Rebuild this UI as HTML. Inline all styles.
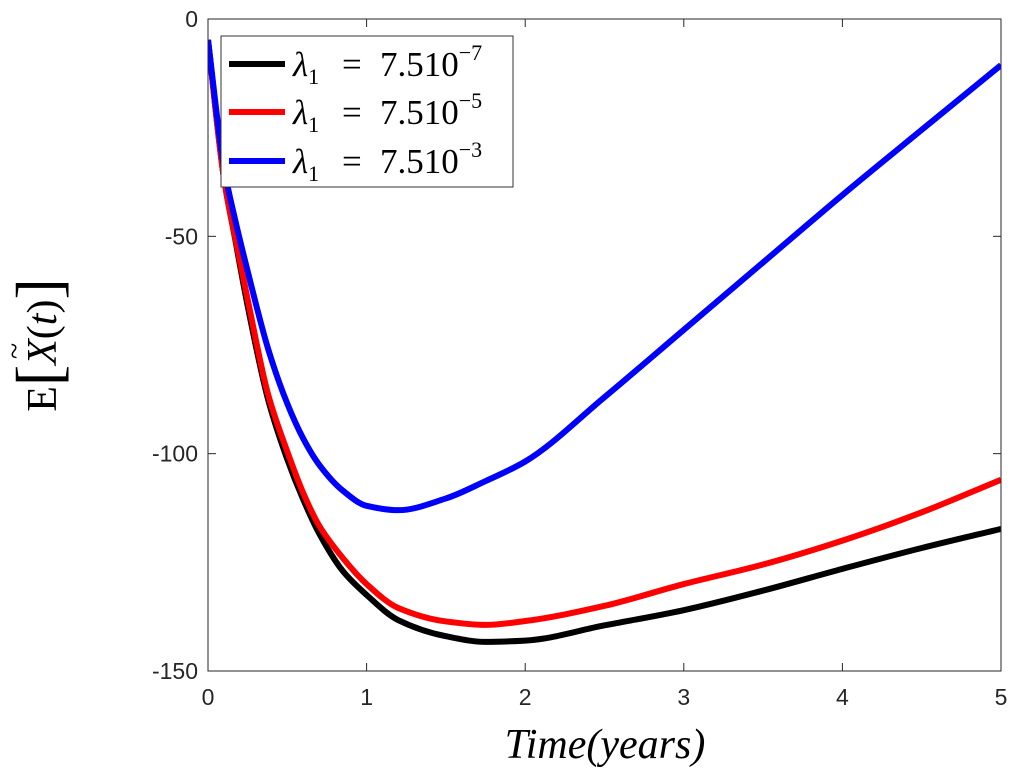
<!DOCTYPE html>
<html><head><meta charset="utf-8"><style>
body{margin:0;background:#fff;}
svg text{font-family:"Liberation Sans",sans-serif;}
</style></head><body>
<svg width="1011" height="774" viewBox="0 0 1011 774" xmlns="http://www.w3.org/2000/svg">
<rect width="1011" height="774" fill="#fff"/>
<g id="plot"></g>
<g id="axes"></g>
<g>
 <rect x="221" y="36" width="292" height="151" fill="#fff" stroke="#333" stroke-width="1"/>
 <line x1="229" y1="64" x2="285" y2="64" stroke="#000" stroke-width="6"/>
 <line x1="229" y1="112" x2="285" y2="112" stroke="#f00" stroke-width="6"/>
 <line x1="229" y1="161" x2="285" y2="161" stroke="#00f" stroke-width="6"/>
 <text x="293" y="76" font-size="35" style="font-family:'Liberation Serif',serif"><tspan font-style="italic">λ</tspan><tspan font-size="22" dy="8">1</tspan><tspan dy="-8" x="342">=</tspan><tspan x="380">7.510</tspan><tspan font-size="22" dy="-16">−7</tspan></text>
 <text x="293" y="124" font-size="35" style="font-family:'Liberation Serif',serif"><tspan font-style="italic">λ</tspan><tspan font-size="22" dy="8">1</tspan><tspan dy="-8" x="342">=</tspan><tspan x="380">7.510</tspan><tspan font-size="22" dy="-16">−5</tspan></text>
 <text x="293" y="173" font-size="35" style="font-family:'Liberation Serif',serif"><tspan font-style="italic">λ</tspan><tspan font-size="22" dy="8">1</tspan><tspan dy="-8" x="342">=</tspan><tspan x="380">7.510</tspan><tspan font-size="22" dy="-16">−3</tspan></text>
</g>
<text x="605" y="758" font-size="42" font-style="italic" text-anchor="middle" style="font-family:'Liberation Serif',serif">Time(years)</text>
<g transform="translate(56,345) rotate(-90)">
 <text x="0" y="0" font-size="42" text-anchor="middle" style="font-family:'Liberation Serif',serif">E<tspan font-size="64" dy="4">[</tspan><tspan font-style="italic" dy="-4">X</tspan><tspan>(</tspan><tspan font-style="italic">t</tspan><tspan>)</tspan><tspan font-size="64" dy="4">]</tspan></text>
 <text x="-6" y="-32" font-size="30" text-anchor="middle" style="font-family:'Liberation Serif',serif">~</text>
</g>
</svg>
<script>
const tVals=[0,0.1,0.17,0.25,0.38,0.5,0.6,0.7,0.85,1,1.2,1.5,1.75,2,2.5,3,3.5,4,4.5,5];
const blackVals=[-4.8,-36.5,-50.4,-66,-87.7,-101.3,-110.5,-118.3,-127,-132.5,-138.3,-142,-143.3,-143,-139.5,-136,-131.5,-126.5,-121.7,-117.3];
const redVals=[-4.8,-36.5,-50,-64.5,-86.5,-99.5,-109,-116.5,-124,-130,-135.5,-138.6,-139.4,-138.5,-135,-130,-125.5,-120,-113.5,-106];
const blueVals=[-4.8,-34,-46,-58,-76,-88.5,-96.5,-102.5,-108.5,-112,-113,-110.3,-106.3,-101.8,-87,-71.5,-56,-40.5,-25.5,-10.6];
const xTicks=[0,1,2,3,4,5];
const yTicks=[0,-50,-100,-150];
const X0=208,X1=1001,Y0=19,Y1=671;
const sx=t=>X0+(t-0)/(5-0)*(X1-X0);
const sy=v=>Y0+(0-v)/150*(Y1-Y0);
const NS="http://www.w3.org/2000/svg";
const plot=document.getElementById('plot'),axes=document.getElementById('axes');
function mk(tag,attrs,parent){const e=document.createElementNS(NS,tag);for(const k in attrs)e.setAttribute(k,attrs[k]);parent.appendChild(e);return e;}
function path(vals){
 const p=tVals.map((t,i)=>[sx(t),sy(vals[i])]);const n=p.length;
 const h=[],d=[];for(let i=0;i<n-1;i++){h.push(p[i+1][0]-p[i][0]);d.push((p[i+1][1]-p[i][1])/h[i]);}
 const m=new Array(n);m[0]=d[0];m[n-1]=d[n-2];
 for(let i=1;i<n-1;i++){
  if(d[i-1]*d[i]<=0){m[i]=0;}else{const w1=2*h[i]+h[i-1],w2=h[i]+2*h[i-1];m[i]=(w1+w2)/(w1/d[i-1]+w2/d[i]);}}
 let s=`M${p[0][0]},${p[0][1]}`;
 for(let i=0;i<n-1;i++){const b=p[i],c=p[i+1],k=h[i]/3;
  s+=` C${b[0]+k},${b[1]+m[i]*k} ${c[0]-k},${c[1]-m[i+1]*k} ${c[0]},${c[1]}`;}
 return s;}
const cp=mk('clipPath',{id:'cl'},plot);mk('rect',{x:X0,y:Y0,width:X1-X0,height:Y1-Y0},cp);
const g=mk('g',{'clip-path':'url(#cl)'},plot);
const l1=mk('path',{d:path(blackVals),fill:'none',stroke:'#000','stroke-width':6},g);


const l2=mk('path',{d:path(redVals),fill:'none',stroke:'#f00','stroke-width':6},g);


const l3=mk('path',{d:path(blueVals),fill:'none',stroke:'#00f','stroke-width':6},g);


const box=mk('rect',{x:X0,y:Y0,width:X1-X0,height:Y1-Y0,fill:'none',stroke:'#262626','stroke-width':1},axes);


xTicks.forEach(t=>{const x=sx(t);
 mk('line',{x1:x,y1:Y1,x2:x,y2:Y1-8,stroke:'#262626'},axes);mk('line',{x1:x,y1:Y0,x2:x,y2:Y0+8,stroke:'#262626'},axes);
 const tx=mk('text',{x:x,y:Y1+34,'font-size':23,fill:'#262626','text-anchor':'middle'},axes);tx.textContent=t;
 
 });
yTicks.forEach(v=>{const y=sy(v);
 mk('line',{x1:X0,y1:y,x2:X0+8,y2:y,stroke:'#262626'},axes);mk('line',{x1:X1,y1:y,x2:X1-8,y2:y,stroke:'#262626'},axes);
 const tx=mk('text',{x:X0-10,y:y+8,'font-size':23,fill:'#262626','text-anchor':'end'},axes);tx.textContent=v;
 
 });
</script>
</body></html>
